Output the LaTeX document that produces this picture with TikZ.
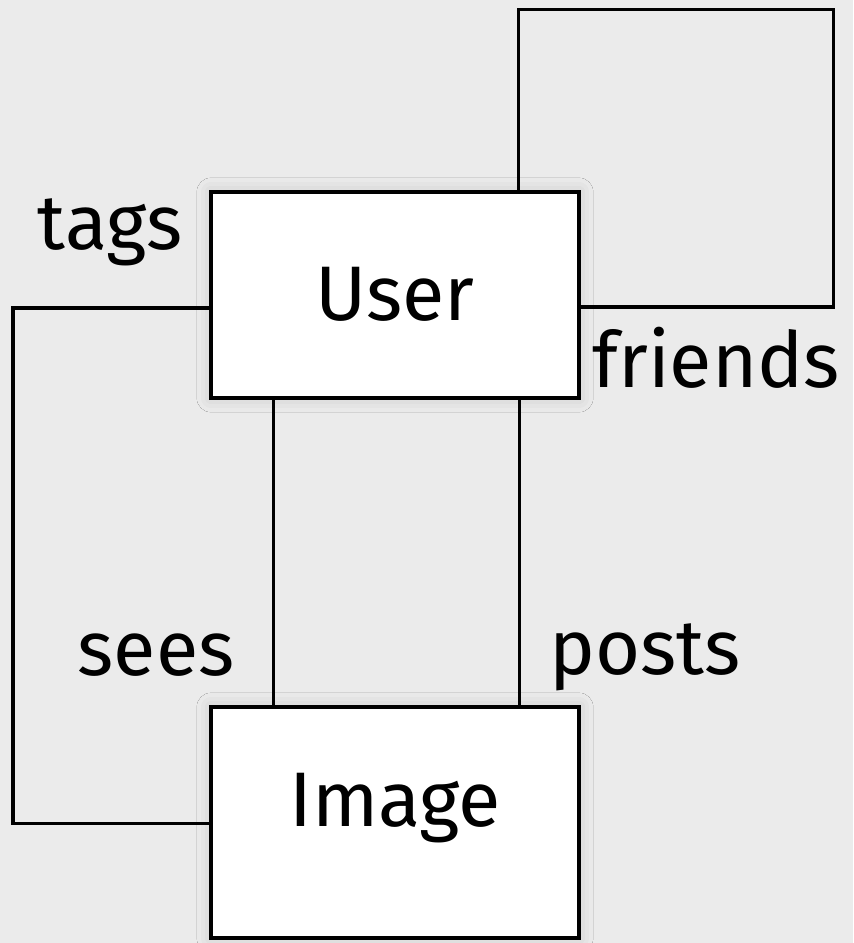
\documentclass[tikz,border=0pt]{standalone}
\usepackage{fontspec}
\setmainfont{Fira Sans}
\usepackage{tikz}
\usetikzlibrary{shapes,calc,shadows.blur}
\definecolor{bggray}{HTML}{EBEBEB}
\tikzstyle{entity} = [rectangle, draw, fill=white, line width=0.04cm, sharp corners, %
text centered, minimum width=3.68cm, font=\fontsize{22}{26}\selectfont, %
blur shadow={shadow xshift=0pt, shadow yshift=0pt, shadow blur radius=4pt, shadow opacity=15}]
\tikzstyle{link} = [draw, line width=0.03cm]
\tikzstyle{rel} = [font=\fontsize{22}{26}\selectfont, inner sep=0pt]

\begin{document}
\begin{tikzpicture}[x=0.01cm, y=-0.01cm]
    \fill[bggray] (0,0) rectangle (853,943);
    \useasboundingbox (0,0) rectangle (853,943);
    \node[entity, minimum height=2.06cm, text height=0.6cm, text depth=0.1cm] (user) at (395,295) {User};
    \node[entity, minimum height=2.31cm, text height=0.6cm, text depth=0.52cm] (image) at (395,822.5) {Image};
    % loop corners
    \coordinate (fra) at (518,10);
    \coordinate (frb) at (833,10);
    \coordinate (frc) at (833,307);
    \coordinate (tga) at (13,308);
    \coordinate (tgb) at (13,823);
    % draw links
    \path[link] (user.south -| 273,0) -- (image.north -| 273,0);
    \path[link] (user.south -| 519,0) -- (image.north -| 519,0);
    \path[link] (user.north -| fra) -- (fra) -- (frb) -- (frc) -- (user.east |- frc);
    \path[link] (user.west |- tga) -- (tga) -- (tgb) -- (image.west |- tgb);
    % labels
    \node[rel] (tags) at (110,232) {tags};
    \node[rel] (friends) at (716,358) {friends};
    \node[rel] (sees) at (156,655) {sees};
    \node[rel] (posts) at (645,657) {posts};
\end{tikzpicture}
\end{document}
